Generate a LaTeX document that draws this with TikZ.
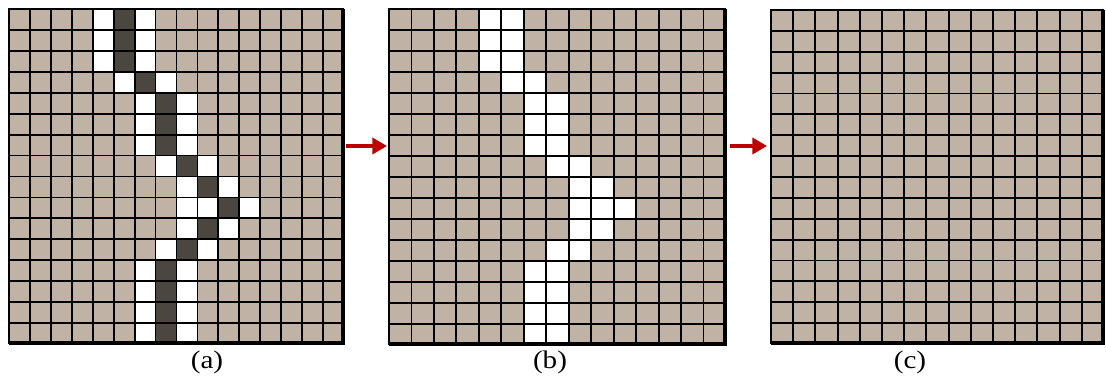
\documentclass[tikz,border=0pt]{standalone}
\usepackage{fontspec}
\setmainfont{Liberation Serif}
\usetikzlibrary{arrows.meta}
\definecolor{pixeltan}{RGB}{192,178,164}
\definecolor{seamdark}{RGB}{76,70,65}
\definecolor{arrowred}{RGB}{190,0,0}

\begin{document}
\begin{tikzpicture}[x=0.75pt, y=-0.75pt,
    gridline/.style={black, line width=1.4pt},
    edgethin/.style={black, line width=1.6pt},
    edgethick/.style={black, line width=3pt},
    flow/.style={-{Triangle[length=11pt,width=12pt]}, line width=3.6pt, arrowred},
    caption/.style={font=\fontsize{19}{22}\selectfont, xscale=1.15}]

  \useasboundingbox (0,0) rectangle (1106,377);

  % Panel (a): 16 x 16 pixels with the dark seam
  \fill[pixeltan] (9,9) rectangle (344,344);
  \foreach \r/\s in {0/5,1/5,2/5,3/6,4/7,5/7,6/7,7/8,8/9,9/10,10/9,11/8,12/7,13/7,14/7,15/7} {
    \fill[white] ({9+(\s-1)*335/16},{9+\r*335/16}) rectangle ++(20.94,20.94);
    \fill[white] ({9+(\s+1)*335/16},{9+\r*335/16}) rectangle ++(20.94,20.94);
    \fill[seamdark] ({9+\s*335/16},{9+\r*335/16}) rectangle ++(20.94,20.94);
  }
  \fill[white] ({9+8*335/16},{9+9*335/16}) rectangle ++(20.94,20.94);
  \foreach \i in {1,...,15} {
    \draw[gridline] ({9+\i*335/16},9) -- ({9+\i*335/16},344);
    \draw[gridline] (9,{9+\i*335/16}) -- (344,{9+\i*335/16});
  }
  \draw[edgethin] (344,9) -- (9,9) -- (9,344);
  \draw[edgethick] (9,343) -- (343,343) -- (343,9);

  % Panel (b): seam removed, 15 x 16 pixels
  \fill[pixeltan] (389,9) rectangle (726,345);
  \foreach \r/\s in {0/5,1/5,2/5,3/6,4/7,5/7,6/7,7/8,8/9,9/10,10/9,11/8,12/7,13/7,14/7,15/7} {
    \fill[white] ({389+(\s-1)*337/15},{9+\r*21}) rectangle ++(44.93,21);
  }
  \fill[white] ({389+8*337/15},{9+9*21}) rectangle ++(22.47,21);
  \foreach \i in {1,...,14} {
    \draw[gridline] ({389+\i*337/15},9) -- ({389+\i*337/15},345);
  }
  \foreach \i in {1,...,15} {
    \draw[gridline] (389,{9+\i*21}) -- (726,{9+\i*21});
  }
  \draw[edgethin] (726,9) -- (389,9) -- (389,345);
  \draw[edgethick] (389,344) -- (725,344) -- (725,9);

  % Panel (c): retargeted image, 15 x 16 pixels
  \fill[pixeltan] (771,10) rectangle (1104,344);
  \foreach \i in {1,...,14} {
    \draw[gridline] ({771+\i*333/15},10) -- ({771+\i*333/15},344);
  }
  \foreach \i in {1,...,15} {
    \draw[gridline] (771,{10+\i*334/16}) -- (1104,{10+\i*334/16});
  }
  \draw[edgethin] (1104,10) -- (771,10) -- (771,344);
  \draw[edgethick] (771,343) -- (1103,343) -- (1103,10);

  % Flow arrows
  \coordinate (flowAstart) at (346,146);
  \coordinate (flowAend) at (387,146);
  \coordinate (flowBstart) at (730,146);
  \coordinate (flowBend) at (767,146);
  \draw[flow] (flowAstart) -- (flowAend);
  \draw[flow] (flowBstart) -- (flowBend);

  % Captions
  \node[caption] (capa) at (207,362) {(a)};
  \node[caption] (capb) at (550,362) {(b)};
  \node[caption] (capc) at (910,362) {(c)};

\end{tikzpicture}
\end{document}
